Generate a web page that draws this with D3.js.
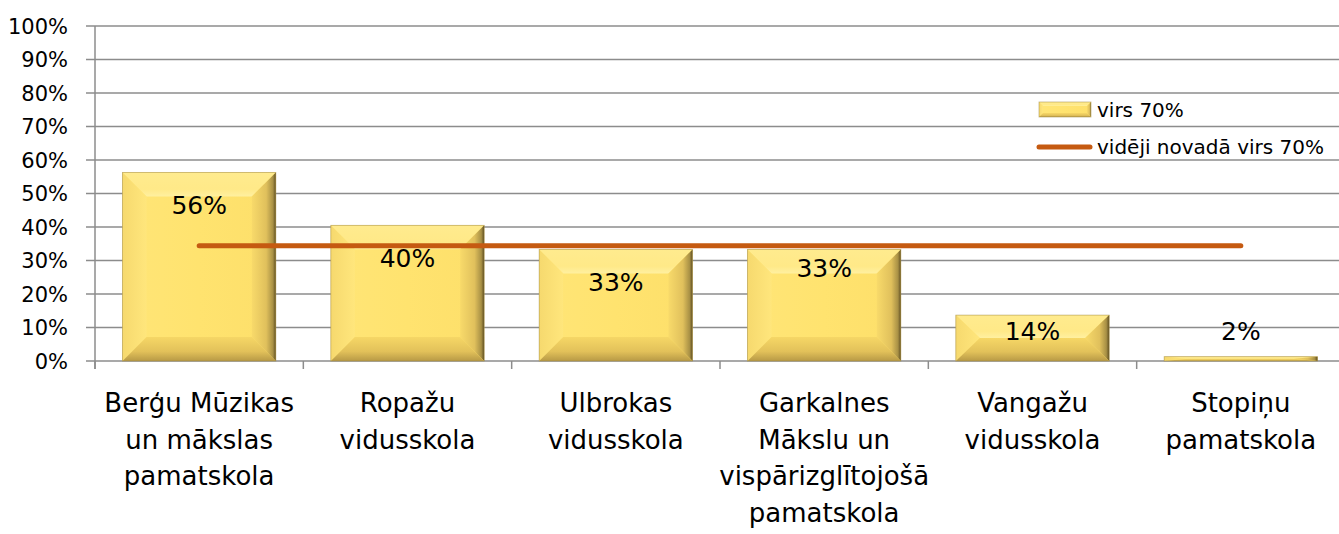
<!DOCTYPE html>
<html>
<head>
<meta charset="utf-8">
<script src="https://cdn.jsdelivr.net/npm/d3@7"></script>
<style>
  body { margin: 0; background: #fff; }
  text { font-family: "DejaVu Sans", sans-serif; fill: #000; }
</style>
</head>
<body>
<script>
// chart data
var schools = [
    ["Berģu Mūzikas", "un mākslas", "pamatskola"],
    ["Ropažu", "vidusskola"],
    ["Ulbrokas", "vidusskola"],
    ["Garkalnes", "Mākslu un", "vispārizglītojošā", "pamatskola"],
    ["Vangažu", "vidusskola"],
    ["Stopiņu", "pamatskola"]
];
var above70 = [0.563, 0.405, 0.333, 0.333, 0.137, 0.013];
var labels = ["56%", "40%", "33%", "33%", "14%", "2%"];
var avgAbove70 = [0.344, 0.344, 0.344, 0.344, 0.344, 0.344];
var yTicks = [0, 0.1, 0.2, 0.3, 0.4, 0.5, 0.6, 0.7, 0.8, 0.9, 1];
var seriesNames = ["virs 70%", "vidēji novadā virs 70%"];

// label nudges (Excel labels were moved by hand)
var labelNudge = [0, 0, 0, -14, 0, 0];

var W = 1339, H = 534;
var mLeft = 95, mRight = 1345, mTop = 26, mBottom = 361;

var svg = d3.select("body").append("svg")
    .attr("width", W)
    .attr("height", H);

var x = d3.scaleBand()
    .domain(d3.range(schools.length))
    .range([mLeft, mRight])
    .paddingInner(0.264)
    .paddingOuter(0.132);

var xCat = d3.scaleBand()
    .domain(d3.range(schools.length))
    .range([mLeft, mRight]);

var y = d3.scaleLinear()
    .domain([0, 1])
    .range([mBottom, mTop]);

// gradients for bevel
var defs = svg.append("defs");
function lin(id, x1, y1, x2, y2, stops) {
    var g = defs.append("linearGradient").attr("id", id)
        .attr("x1", x1).attr("y1", y1).attr("x2", x2).attr("y2", y2);
    stops.forEach(function(s) {
        g.append("stop").attr("offset", s[0]).attr("stop-color", s[1]);
    });
}
lin("face", 0, 0, 1, 0, [[0, "#FFE577"], [0.5, "#FFE36F"], [1, "#FDDF6A"]]);
lin("topB", 0, 0, 0, 1, [[0, "#FFEB8E"], [0.7, "#FFE988"], [1, "#FFF0A0"]]);
lin("leftB", 0, 0, 1, 0, [[0, "#F6D96E"], [1, "#FFE67C"]]);
lin("rightB", 0, 0, 1, 0, [[0, "#F8DA6A"], [0.6, "#E0C05C"], [0.88, "#A89045"], [1, "#5E4E22"]]);
lin("botB", 0, 0, 0, 1, [[0, "#F6D766"], [0.6, "#E2C15A"], [1, "#B89A46"]]);

// gridlines
svg.append("g")
    .selectAll("line")
    .data(yTicks)
    .enter()
    .append("line")
    .attr("x1", mLeft - 9)
    .attr("x2", W)
    .attr("y1", function(d) { return y(d); })
    .attr("y2", function(d) { return y(d); })
    .attr("stroke", "#8C8C8C")
    .attr("stroke-width", 1.5);

// y axis line
svg.append("line")
    .attr("x1", mLeft).attr("x2", mLeft)
    .attr("y1", y(1)).attr("y2", mBottom + 8)
    .attr("stroke", "#8C8C8C")
    .attr("stroke-width", 1.5);

// y tick labels
svg.append("g")
    .selectAll("text")
    .data(yTicks)
    .enter()
    .append("text")
    .attr("x", 68)
    .attr("y", function(d) { return y(d); })
    .attr("dy", "0.36em")
    .attr("text-anchor", "end")
    .style("font-size", "21px")
    .text(function(d) { return Math.round(d * 100) + "%"; });

// category ticks
svg.append("g")
    .selectAll("line")
    .data(d3.range(schools.length))
    .enter()
    .append("line")
    .attr("x1", function(d) { return xCat(d); })
    .attr("x2", function(d) { return xCat(d); })
    .attr("y1", mBottom)
    .attr("y2", mBottom + 8)
    .attr("stroke", "#8C8C8C")
    .attr("stroke-width", 1.5);

// bevel bars
function drawBar(g, x0, y0, w, h, bv) {
    var x1 = x0 + w, y1 = y0 + h;
    var b = Math.min(bv, h / 2, w / 2);
    var bs = Math.min(bv, w / 2);
    g.append("rect").attr("x", x0).attr("y", y0).attr("width", w).attr("height", h)
        .attr("fill", "url(#face)");
    g.append("polygon").attr("fill", "url(#topB)")
        .attr("points", [[x0, y0], [x1, y0], [x1 - bs, y0 + b], [x0 + bs, y0 + b]].join(" "));
    g.append("polygon").attr("fill", "url(#leftB)")
        .attr("points", [[x0, y0], [x0 + bs, y0 + b], [x0 + bs, y1 - b], [x0, y1]].join(" "));
    g.append("polygon").attr("fill", "url(#rightB)")
        .attr("points", [[x1, y0], [x1, y1], [x1 - bs, y1 - b], [x1 - bs, y0 + b]].join(" "));
    g.append("polygon").attr("fill", "url(#botB)")
        .attr("points", [[x0, y1], [x0 + bs, y1 - b], [x1 - bs, y1 - b], [x1, y1]].join(" "));
    g.append("rect").attr("x", x0).attr("y", y0).attr("width", w).attr("height", h)
        .attr("fill", "none").attr("stroke", "#9C8640").attr("stroke-width", 0.8)
        .attr("stroke-opacity", 0.6);
}

var bars = svg.append("g");
above70.forEach(function(v, i) {
    drawBar(bars.append("g"), x(i), y(v), x.bandwidth(), y(0) - y(v), 24);
});

// average line
var line = d3.line()
    .x(function(d, i) { return xCat(i) + xCat.bandwidth() / 2; })
    .y(function(d) { return y(d); });
svg.append("path")
    .datum(avgAbove70)
    .attr("d", line)
    .attr("fill", "none")
    .attr("stroke", "#C55A11")
    .attr("stroke-width", 5)
    .attr("stroke-linecap", "round");

// data labels
svg.append("g")
    .selectAll("text")
    .data(above70)
    .enter()
    .append("text")
    .attr("x", function(d, i) { return x(i) + x.bandwidth() / 2; })
    .attr("y", function(d, i) { return Math.min(y(d) + 33, y(0) - 30) + labelNudge[i]; })
    .attr("dy", "0.36em")
    .attr("text-anchor", "middle")
    .style("font-size", "25px")
    .text(function(d, i) { return labels[i]; });

// category labels
svg.append("g")
    .selectAll("text")
    .data(schools)
    .enter()
    .append("text")
    .attr("text-anchor", "middle")
    .attr("x", function(d, i) { return xCat(i) + xCat.bandwidth() / 2; })
    .attr("y", 412)
    .style("font-size", "26px")
    .each(function(d) {
        var t = d3.select(this);
        d.forEach(function(s, k) {
            t.append("tspan")
                .attr("x", t.attr("x"))
                .attr("y", 412 + k * 36.7)
                .text(s);
        });
    });

// legend
var lg = svg.append("g");
drawBar(lg.append("g"), 1039, 102, 52, 15, 4);
lg.append("line")
    .attr("x1", 1039).attr("x2", 1090)
    .attr("y1", 147).attr("y2", 147)
    .attr("stroke", "#C55A11")
    .attr("stroke-width", 5)
    .attr("stroke-linecap", "round");
lg.selectAll("text")
    .data(seriesNames)
    .enter()
    .append("text")
    .attr("x", 1097)
    .attr("y", function(d, i) { return 110 + i * 37; })
    .attr("dy", "0.36em")
    .style("font-size", "20px")
    .text(function(d) { return d; });
</script>
</body>
</html>
